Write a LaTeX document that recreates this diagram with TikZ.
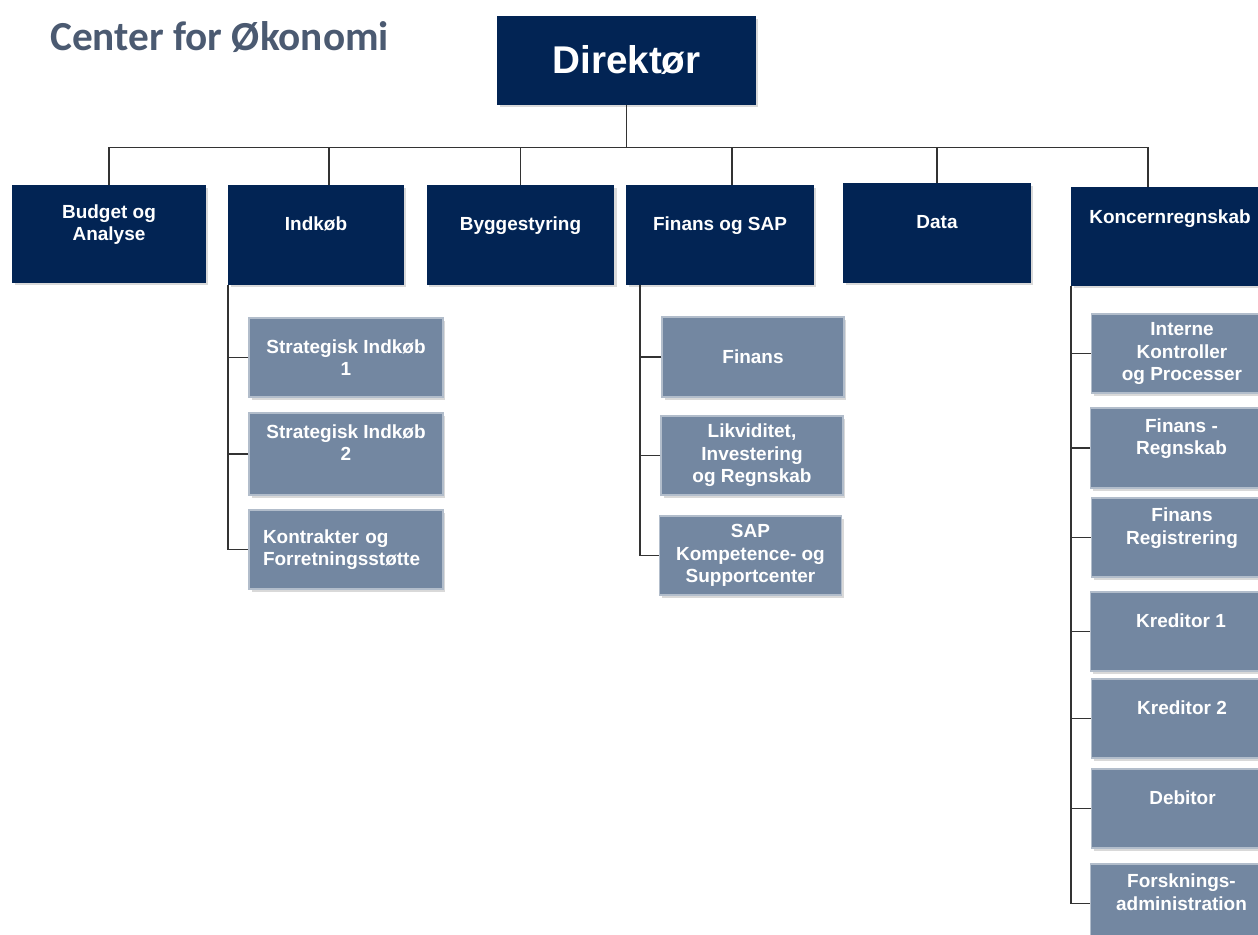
\documentclass[tikz,border=0pt]{standalone}
\usepackage{fontspec}
\setmainfont{Liberation Sans}
\newfontfamily\titlefont{Carlito}
\usetikzlibrary{shadows}
\definecolor{navy}{HTML}{022454}
\definecolor{slate}{HTML}{7387A1}
\definecolor{titlegray}{HTML}{4B5A71}
\tikzset{
  unitbox/.style={fill=navy, text=white, inner sep=0pt, align=center,
    minimum width=3.76cm, minimum height=2cm,
    font=\fontsize{10.8}{12.8}\selectfont\bfseries,
    drop shadow={shadow xshift=0.05cm, shadow yshift=-0.05cm, opacity=0.3}},
  groupbox/.style={unitbox, fill=slate, draw=slate!55!white, line width=0.6pt,
    minimum width=3.64cm, minimum height=1.58cm},
  raised/.style={text depth=0.45cm},
  link/.style={draw=black!80, line width=0.95pt}
}
\begin{document}
\begin{tikzpicture}[x=0.02cm, y=-0.02cm]
    \useasboundingbox (0,0) rectangle (1258,934);
    \clip (0,0) rectangle (1258,934);
    \node[font=\titlefont\fontsize{23.5}{28}\selectfont\bfseries, text=titlegray, anchor=base west, inner sep=0pt] (title) at (50,50) {Center for Økonomi};
    % direktør and the six units
    \node[unitbox, font=\fontsize{22}{26}\selectfont\bfseries, minimum width=5.18cm, minimum height=1.78cm] (dir) at (626.5,60.5) {Direktør};
    \node[unitbox, raised, minimum width=3.88cm, minimum height=1.96cm] (budget) at (109,234) {Budget og\\Analyse};
    \node[unitbox, raised, minimum width=3.52cm] (indkob) at (316,235) {Indkøb};
    \node[unitbox, raised] (bygge) at (520.5,235) {Byggestyring};
    \node[unitbox, raised] (finsap) at (720,235) {Finans og SAP};
    \node[unitbox, raised] (data) at (937,233) {Data};
    \node[unitbox, text depth=0.78cm, minimum width=3.96cm, minimum height=1.98cm] (koncern) at (1170,236.5) {Koncernregnskab};
    % groups under Indkøb
    \node[groupbox, minimum width=3.88cm] (strat1) at (346,357.5) {Strategisk Indkøb\\1};
    \node[groupbox, raised, minimum width=3.88cm, minimum height=1.64cm] (strat2) at (346,454) {Strategisk Indkøb\\2};
    \node[groupbox, align=left, text width=3.32cm, minimum width=3.88cm] (kontrakt) at (346,549.5) {Kontrakter og\\Forretningsstøtte};
    % groups under Finans og SAP
    \node[groupbox, minimum height=1.6cm] (finans) at (753,357) {Finans};
    \node[groupbox] (likvid) at (752,455.5) {Likviditet,\\Investering\\og Regnskab};
    \node[groupbox] (sapkc) at (750.5,555.5) {SAP\\Kompetence- og\\Supportcenter};
    % groups under Koncernregnskab
    \node[groupbox] (interne) at (1182,353.5) {Interne\\Kontroller\\og Processer};
    \node[groupbox, raised, minimum height=1.6cm] (finregn) at (1181.5,448) {Finans -\\Regnskab};
    \node[groupbox, raised] (finreg) at (1182,537.5) {Finans\\Registrering};
    \node[groupbox, raised] (kred1) at (1181,631.5) {Kreditor 1};
    \node[groupbox, raised] (kred2) at (1182,718.5) {Kreditor 2};
    \node[groupbox, raised] (debitor) at (1182.5,808.5) {Debitor};
    \node[groupbox, raised] (forsk) at (1181.5,903.5) {Forsknings-\\administration};
    % lines
    \path (dir.south) ++(0,42) coordinate (bar);
    \draw[link] (dir.south) -- (bar);
    \draw[link] (budget.north) |- (bar);
    \draw[link] ([xshift=0.26cm]indkob.north) |- (bar);
    \draw[link] (bygge.north) |- (bar);
    \draw[link] ([xshift=0.24cm]finsap.north) |- (bar);
    \draw[link] (data.north) |- (bar);
    \draw[link] ([xshift=-0.44cm]koncern.north) |- (bar);
    \draw[link] (indkob.south west) |- (kontrakt.west);
    \foreach \sub in {strat1,strat2}
    \draw[link] (\sub.west) -- (\sub.west -| indkob.south west);
    \coordinate (fspine) at ([xshift=0.28cm]finsap.south west);
    \draw[link] (fspine) |- (sapkc.west);
    \foreach \sub in {finans,likvid}
    \draw[link] (\sub.west) -- (\sub.west -| fspine);
    \draw[link] (koncern.south west) |- (forsk.west);
    \foreach \sub in {interne,finregn,finreg,kred1,kred2,debitor}
    \draw[link] (\sub.west) -- (\sub.west -| koncern.south west);
\end{tikzpicture}
\end{document}
